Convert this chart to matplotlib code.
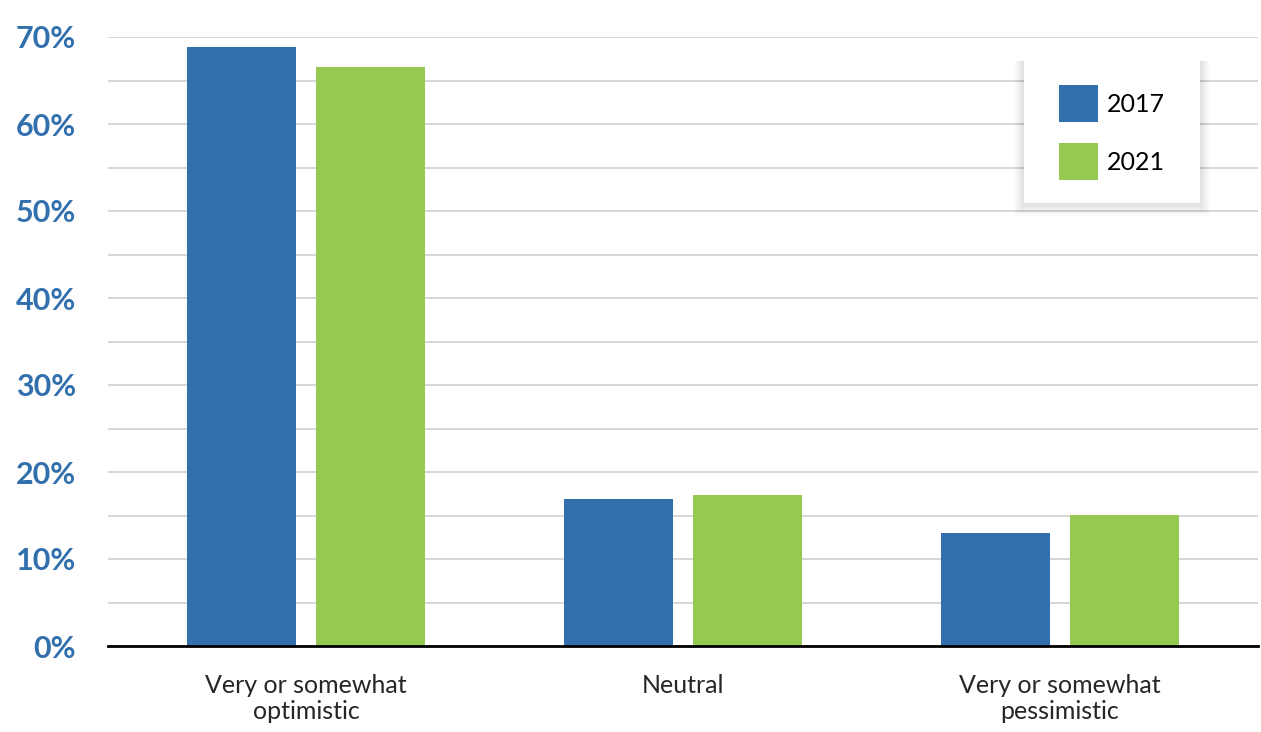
import numpy as np
import matplotlib.pyplot as plt
from matplotlib.patches import Rectangle

# data
categories = ["Very or somewhat\noptimistic", "Neutral", "Very or somewhat\npessimistic"]
years = ["2017", "2021"]
values_2017 = [68.8, 16.9, 13.0]
values_2021 = [66.5, 17.4, 15.1]
yticks = [0, 10, 20, 30, 40, 50, 60, 70]

blue = "#3170ad"
green = "#95c951"

fig = plt.figure(figsize=(12.61, 7.32), dpi=100)
ax = fig.add_axes([108 / 1261, 86 / 732, 1150 / 1261, 609 / 732])

x = np.arange(len(categories))
w = 0.287
ax.bar(x - 0.171, values_2017, w, color=blue, label=years[0], zorder=3)
ax.bar(x + 0.171, values_2021, w, color=green, label=years[1], zorder=3)

ax.set_xlim(-0.525, 2.525)
ax.set_ylim(0, 70)
ax.set_yticks(yticks)
ax.set_yticklabels([f"{t}%" for t in yticks], color=blue, fontsize=22,
                   fontweight="bold", family="Lato")
ax.set_yticks(np.arange(5, 70, 10), minor=True)
ax.set_xticks(x)
ax.set_xticklabels(categories, fontsize=18, family="Lato", fontweight="normal",
                   color="#262626", linespacing=1.15)
ax.tick_params(axis="y", which="both", length=0, pad=23)
ax.tick_params(axis="x", length=0, pad=20)

ax.grid(axis="y", which="both", color="#d6d6d6", linewidth=1.4, zorder=0)
for s in ["top", "right", "left"]:
    ax.spines[s].set_visible(False)
ax.spines["bottom"].set_color("black")
ax.spines["bottom"].set_linewidth(2)
ax.spines["bottom"].set_zorder(4)

# legend box with soft shadow (figure coords, drawn inside the axes)
bx, by, bw, bh = 1024 / 1261, (732 - 203) / 732, 176 / 1261, 143 / 732
for i in range(10, 0, -1):
    ax.add_patch(Rectangle((bx - 0.0008 * i, by - 0.0018 * i), bw + 0.0016 * i, bh + 0.0016 * i,
                           transform=fig.transFigure, facecolor="black",
                           edgecolor="none", alpha=0.012, zorder=5, clip_on=False))
ax.add_patch(Rectangle((bx, by), bw, bh, transform=fig.transFigure,
                       facecolor="white", edgecolor="none", zorder=6, clip_on=False))

leg = ax.legend(loc="upper left", bbox_to_anchor=((1059 - 108) / 1150, (646 - 85) / 609),
                frameon=False, borderpad=0, borderaxespad=0,
                handlelength=1.56, handleheight=1.9,
                handletextpad=0.36, labelspacing=0.85,
                prop={"family": "Lato", "weight": "normal", "size": 18})
leg.set_zorder(10)

fig.savefig("out.png", dpi=100)
